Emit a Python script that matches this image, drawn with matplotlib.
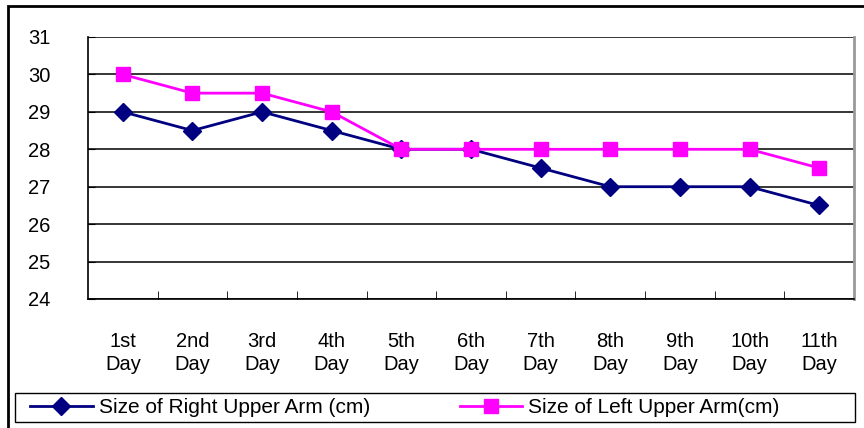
import matplotlib.pyplot as plt
from matplotlib.patches import Rectangle
from matplotlib.ticker import FixedLocator

days = ['1st\nDay', '2nd\nDay', '3rd\nDay', '4th\nDay', '5th\nDay', '6th\nDay',
        '7th\nDay', '8th\nDay', '9th\nDay', '10th\nDay', '11th\nDay']
right_arm = [29, 28.5, 29, 28.5, 28, 28, 27.5, 27, 27, 27, 26.5]
left_arm = [30, 29.5, 29.5, 29, 28, 28, 28, 28, 28, 28, 27.5]

plt.rcParams['font.family'] = ['Liberation Sans', 'DejaVu Sans']

fig = plt.figure(figsize=(8.64, 4.28), dpi=100)
ax = fig.add_axes([88/864, 129/428, 766/864, 262/428])

x = list(range(len(days)))
l1, = ax.plot(x, right_arm, color='#000080', lw=2, marker='D', markersize=9,
              label='Size of Right Upper Arm (cm)')
l2, = ax.plot(x, left_arm, color='#FF00FF', lw=2, marker='s', markersize=10,
              label='Size of Left Upper Arm(cm)')

ax.set_xlim(-0.5, len(days) - 0.5)
ax.set_ylim(24, 31)
ax.set_yticks(range(24, 32))
ax.yaxis.grid(True, color='black', lw=1.1)
ax.set_axisbelow(True)

ax.set_xticks(x)
ax.set_xticklabels(days, fontsize=14.5, linespacing=1.25)
ax.xaxis.set_minor_locator(FixedLocator([i + 0.5 for i in x[:-1]]))
ax.tick_params(axis='x', which='major', length=0, pad=24)
ax.tick_params(axis='x', which='minor', direction='in', length=6, color='black')
ax.tick_params(axis='y', direction='in', length=5, pad=27, labelsize=14.5)

ax.spines['top'].set_visible(False)
ax.spines['right'].set_color('#999999')
ax.spines['right'].set_linewidth(2)
ax.spines['left'].set_linewidth(1.2)
ax.spines['bottom'].set_linewidth(1.2)

# legend entries without frame, box drawn separately across the chart width
leg = fig.legend(handles=[l1, l2], loc='center left', ncol=2,
                 bbox_to_anchor=(30/864, 20.5/428), fontsize=15, frameon=False,
                 handlelength=3.0, handletextpad=0.3, columnspacing=4.3,
                 borderpad=0, borderaxespad=0)
fig.add_artist(Rectangle((15/864, 6/428), 840/864, 29/428, transform=fig.transFigure,
                         fill=False, edgecolor='black', lw=1))

# outer chart border, open at right and bottom
fig.add_artist(Rectangle((8/864, -0.05), 1.0, 0.05 + 422/428, transform=fig.transFigure,
                         fill=False, edgecolor='black', lw=2))

fig.savefig('out.png', dpi=100)
